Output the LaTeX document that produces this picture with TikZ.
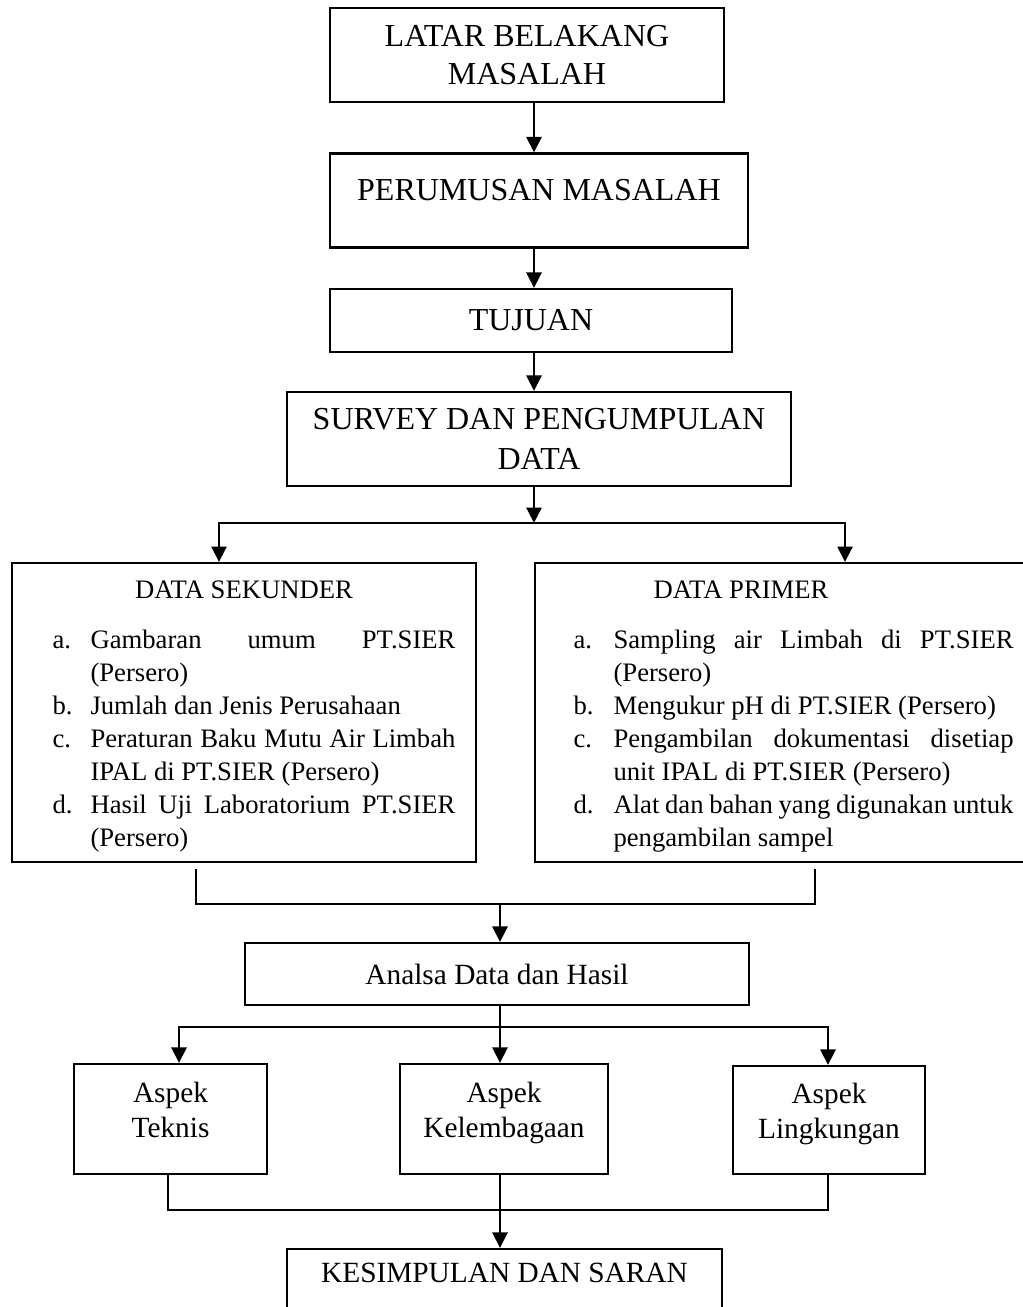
\documentclass[tikz,border=0pt]{standalone}
\usepackage{fontspec}
\setmainfont{Liberation Serif}
\usetikzlibrary{arrows.meta}
\newlength\poinindent
\newcommand\poin[2]{\par\hangindent=\poinindent\hangafter=1\noindent\makebox[\poinindent][l]{#1}#2}
\begin{document}
\begin{tikzpicture}[x=0.375pt,y=-0.375pt,line join=miter,
  >={Triangle[width=5.6pt,length=5.8pt]},
  kotak/.style={draw,line width=0.8pt,inner sep=0pt},
  judul/.style={kotak,font=\fontsize{12}{14.25}\selectfont,align=center},
  hasil/.style={kotak,font=\fontsize{11}{13.1}\selectfont,align=center},
  daftar/.style={anchor=base west,inner sep=0pt,
    font=\fontsize{10}{12.375}\selectfont},
  alur/.style={line width=1.1pt}]
  \useasboundingbox (0,0) rectangle (1022,1307);
  % alur utama
  \node[judul,minimum width=147.75pt,minimum height=35.25pt] (latar) at (527,55)
    {LATAR BELAKANG\\MASALAH};
  \node[kotak,font=\fontsize{12}{14.25}\selectfont,text depth=7.8pt,
    minimum width=156.75pt,minimum height=35.25pt] (rumusan) at (539,200.5)
    {PERUMUSAN MASALAH};
  \node[judul,minimum width=150.75pt,minimum height=23.6pt] (tujuan) at (531,320.5)
    {TUJUAN};
  \node[judul,font=\fontsize{12}{15}\selectfont,
    minimum width=189pt,minimum height=35.25pt] (survey) at (539,439)
    {SURVEY DAN PENGUMPULAN\\DATA};
  \coordinate (as) at (534,0);
  \draw[->,alur] (latar.south -| as) -- (rumusan.north -| as);
  \draw[->,alur] (rumusan.south -| as) -- (tujuan.north -| as);
  \draw[->,alur] (tujuan.south -| as) -- (survey.north -| as);
  % data sekunder dan primer
  \node[kotak,minimum width=174pt,minimum height=112.1pt] (sekunder) at (244,712.5) {};
  \node[kotak,minimum width=189.4pt,minimum height=112.1pt] (primer) at (787.5,712.5) {};
  \node[anchor=base,inner sep=0pt,font=\fontsize{10}{12.375}\selectfont] (jsek) at (244,598)
    {DATA SEKUNDER};
  \node[anchor=base,inner sep=0pt,font=\fontsize{10}{12.375}\selectfont] (jprim) at (741,598)
    {DATA PRIMER};
  \node[daftar] (lsek) at (52,648) {\parbox[t]{151.1pt}{%
    \setlength\poinindent{14.25pt}\hyphenpenalty=10000 \tolerance=10000
    \poin{a.}{Gambaran umum PT.SIER (Persero)}
    \poin{b.}{Jumlah dan Jenis Perusahaan}
    \poin{c.}{Peraturan Baku Mutu Air Limbah IPAL di PT.SIER (Persero)}
    \poin{d.}{Hasil Uji Laboratorium PT.SIER (Persero)}\par}};
  \node[daftar] (lprim) at (573,648) {\parbox[t]{165pt}{%
    \setlength\poinindent{15pt}\hyphenpenalty=10000 \tolerance=10000
    \poin{a.}{Sampling air Limbah di PT.SIER (Persero)}
    \poin{b.}{Mengukur pH di PT.SIER (Persero)}
    \poin{c.}{Pengambilan dokumentasi disetiap unit IPAL di PT.SIER (Persero)}
    \poin{d.}{Alat dan bahan yang digunakan untuk pengambilan sampel}\par}};
  \coordinate (ckiri) at (219,523);
  \coordinate (ckanan) at (845,523);
  \draw[->,alur] (survey.south -| as) -- (as |- ckiri);
  \draw[<->,alur] (ckiri |- sekunder.north) -- (ckiri) -- (ckanan) -- (ckanan |- primer.north);
  % analisa
  \node[hasil,minimum width=189pt,minimum height=23.25pt] (analisa) at (497,974)
    {Analsa Data dan Hasil};
  \coordinate (gkiri) at (196,869);
  \coordinate (gkanan) at (815,869);
  \coordinate (gtengah) at (500,904);
  \draw[alur] (gkiri) -- (gkiri |- gtengah) -- (gkanan |- gtengah) -- (gkanan);
  \draw[->,alur] (gtengah) -- (analisa.north -| gtengah);
  % aspek
  \node[hasil,minimum width=72.4pt,minimum height=41.25pt] (teknis) at (170.5,1119)
    {Aspek\\Teknis\\[-6pt]};
  \node[hasil,minimum width=78pt,minimum height=41.25pt] (lembaga) at (504,1119)
    {Aspek\\Kelembagaan\\[-6pt]};
  \node[hasil,minimum width=72pt,minimum height=40.5pt] (lingkungan) at (829,1120)
    {Aspek\\Lingkungan\\[-6pt]};
  \coordinate (bkiri) at (179,1027);
  \coordinate (bkanan) at (828,1027);
  \coordinate (btengah) at (500,1027);
  \draw[->,alur] (analisa.south -| btengah) -- (lembaga.north -| btengah);
  \draw[<->,alur] (bkiri |- teknis.north) -- (bkiri) -- (bkanan) -- (bkanan |- lingkungan.north);
  % kesimpulan
  \node[kotak,font=\fontsize{11}{13.1}\selectfont,text depth=8.2pt,
    minimum width=163.1pt,minimum height=26.25pt] (simpulan) at (504.5,1284)
    {KESIMPULAN DAN SARAN};
  \coordinate (jkiri) at (168,1210);
  \coordinate (jkanan) at (828,1210);
  \draw[alur] (jkiri |- teknis.south) -- (jkiri) -- (jkanan) -- (jkanan |- lingkungan.south);
  \draw[->,alur] (lembaga.south -| btengah) -- (simpulan.north -| btengah);
\end{tikzpicture}
\end{document}
